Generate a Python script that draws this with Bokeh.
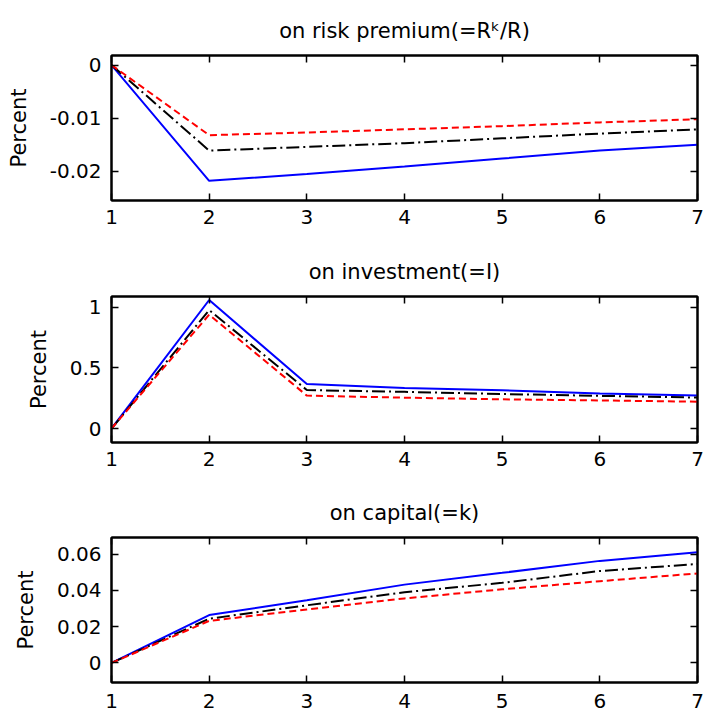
from bokeh.plotting import figure
from bokeh.models import Range1d, FixedTicker, LinearAxis, PrintfTickFormatter
from bokeh.layouts import column
from bokeh.embed import file_html
from bokeh.resources import INLINE

FONT = "DejaVu Sans"

# ---------------- data ----------------
periods = [1, 2, 3, 4, 5, 6, 7]
x_ticks = [1, 2, 3, 4, 5, 6, 7]

# panel 1: risk premium (=R^k/R)
rp_blue = [0, -0.0218, -0.0205, -0.0191, -0.0176, -0.0161, -0.0150]
rp_black = [0, -0.0161, -0.0154, -0.0147, -0.0138, -0.0129, -0.0121]
rp_red = [0, -0.0132, -0.0127, -0.0121, -0.0115, -0.0108, -0.0102]
rp_ticks = [-0.02, -0.01, 0]

# panel 2: investment (=I)
inv_blue = [0, 1.061, 0.367, 0.335, 0.316, 0.290, 0.272]
inv_black = [0, 0.978, 0.318, 0.303, 0.285, 0.270, 0.256]
inv_red = [0, 0.940, 0.272, 0.255, 0.241, 0.232, 0.222]
inv_ticks = [0, 0.5, 1]

# panel 3: capital (=k)
cap_blue = [0, 0.0264, 0.0346, 0.0432, 0.0497, 0.0563, 0.0611]
cap_black = [0, 0.0244, 0.0318, 0.0390, 0.0442, 0.0507, 0.0546]
cap_red = [0, 0.0232, 0.0295, 0.0356, 0.0406, 0.0451, 0.0494]
cap_ticks = [0, 0.02, 0.04, 0.06]

titles = ["on risk premium(=R\u1d4f/R)", "on investment(=I)", "on capital(=k)"]
y_label = "Percent"

FRAME_W = 586


def style_axis(ax, ticks, show_labels=True, standoff=8):
    ax.ticker = FixedTicker(ticks=ticks)
    ax.formatter = PrintfTickFormatter(format="%g")
    ax.major_tick_in = 7
    ax.major_tick_out = 0
    ax.major_tick_line_color = "black"
    ax.major_tick_line_width = 1.5
    ax.minor_tick_line_color = None
    ax.axis_line_color = "black"
    ax.axis_line_width = 2
    ax.major_label_text_font = FONT
    if show_labels:
        ax.major_label_text_font_size = "20px"
        ax.major_label_text_color = "black"
        ax.major_label_standoff = standoff
    else:
        ax.major_label_text_font_size = "0px"
        ax.major_label_text_color = None
        ax.major_label_standoff = 0


def make_panel(title, blue, black, red, yr, yticks, top, fh, bottom, xstd):
    p = figure(frame_width=FRAME_W, frame_height=fh,
               x_range=Range1d(1, 7), y_range=Range1d(*yr),
               output_backend="svg", toolbar_location=None,
               min_border_left=111, min_border_right=8,
               min_border_top=top, min_border_bottom=bottom)
    p.background_fill_color = "white"
    p.border_fill_color = "white"
    p.outline_line_color = "black"
    p.outline_line_width = 2
    p.grid.visible = False

    p.title.text = title
    p.title.align = "center"
    p.title.text_font = FONT
    p.title.text_font_size = "21px"
    p.title.text_font_style = "normal"
    p.title.text_color = "black"
    p.title.standoff = 26

    style_axis(p.xaxis[0], x_ticks, True, xstd)
    style_axis(p.yaxis[0], yticks, True, 10)
    p.yaxis[0].axis_label = y_label
    p.yaxis[0].axis_label_text_font = FONT
    p.yaxis[0].axis_label_text_font_size = "21px"
    p.yaxis[0].axis_label_text_font_style = "normal"
    p.yaxis[0].axis_label_text_color = "black"
    p.yaxis[0].axis_label_standoff = 16

    ax_top = LinearAxis()
    style_axis(ax_top, x_ticks, False)
    p.add_layout(ax_top, "above")
    ax_right = LinearAxis()
    style_axis(ax_right, yticks, False)
    p.add_layout(ax_right, "right")

    p.line(periods, blue, line_color="#0000ff", line_width=2)
    p.line(periods, black, line_color="black", line_width=2, line_dash="13 4 2 4")
    p.line(periods, red, line_color="#ff0000", line_width=2, line_dash="7 4")
    return p


p1 = make_panel(titles[0], rp_blue, rp_black, rp_red, (-0.0255, 0.0018), rp_ticks,
                55, 145, 40, 9)
p2 = make_panel(titles[1], inv_blue, inv_black, inv_red, (-0.115, 1.09), inv_ticks,
                56, 146, 40, 9)
p3 = make_panel(titles[2], cap_blue, cap_black, cap_red, (-0.0108, 0.0692), cap_ticks,
                55, 145, 35, 11)

layout = column(p1, p2, p3, spacing=0)

open("out.html", "w").write(file_html(layout, INLINE))
